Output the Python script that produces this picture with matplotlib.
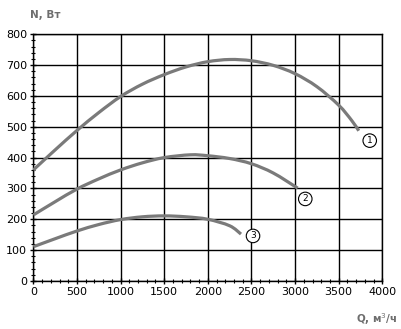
import matplotlib.pyplot as plt
from matplotlib.path import Path
from matplotlib.patches import PathPatch
from matplotlib.ticker import MultipleLocator

q1 = [0, 250, 500, 750, 1000, 1250, 1500, 1750, 2000, 2250, 2500, 2750, 3000, 3250, 3500, 3650, 3730]
n1 = [360, 425, 488, 546, 598, 638, 669, 694, 711, 718, 714, 699, 672, 630, 570, 520, 487]

q2 = [0, 250, 500, 750, 1000, 1250, 1500, 1800, 2000, 2250, 2500, 2750, 3030]
n2 = [214, 257, 298, 331, 360, 383, 400, 409, 406, 397, 380, 350, 301]

q3 = [0, 250, 500, 750, 1000, 1250, 1500, 1750, 2000, 2250, 2380]
n3 = [111, 137, 162, 183, 199, 208, 211, 208, 200, 179, 152]

labels = ["1", "2", "3"]
label_pos = [(3856, 455), (3117, 266), (2518, 146)]


def smooth_path(xs, ys):
    # Catmull-Rom through the read points, drawn as cubic Bezier segments
    pts = list(zip(xs, ys))
    verts = [pts[0]]
    codes = [Path.MOVETO]
    for i in range(len(pts) - 1):
        p0 = pts[i - 1] if i > 0 else pts[i]
        p1, p2 = pts[i], pts[i + 1]
        p3 = pts[i + 2] if i + 2 < len(pts) else pts[i + 1]
        c1 = (p1[0] + (p2[0] - p0[0]) / 6, p1[1] + (p2[1] - p0[1]) / 6)
        c2 = (p2[0] - (p3[0] - p1[0]) / 6, p2[1] - (p3[1] - p1[1]) / 6)
        verts += [c1, c2, p2]
        codes += [Path.CURVE4] * 3
    return Path(verts, codes)


fig = plt.figure(figsize=(4.02, 3.29), dpi=100)
ax = fig.add_axes([0.083, 0.146, 0.868, 0.75])

curve_color = "#7a7a7a"
for q, n in [(q1, n1), (q2, n2), (q3, n3)]:
    ax.add_patch(PathPatch(smooth_path(q, n), fc="none", ec=curve_color, lw=2.3,
                           capstyle="butt", zorder=3))

for lab, (x, y) in zip(labels, label_pos):
    ax.text(x, y, lab, fontsize=6.5, ha="center", va="center", zorder=4,
            bbox=dict(boxstyle="circle,pad=0.25", fc="white", ec="black", lw=0.8))

ax.set_xlim(0, 4000)
ax.set_ylim(0, 800)
ax.xaxis.set_major_locator(MultipleLocator(500))
ax.xaxis.set_minor_locator(MultipleLocator(100))
ax.yaxis.set_major_locator(MultipleLocator(100))
ax.yaxis.set_minor_locator(MultipleLocator(20))
ax.grid(which="major", color="black", lw=1.0)
ax.tick_params(which="major", direction="inout", length=5, width=1, labelsize=8, pad=2)
ax.tick_params(which="minor", direction="inout", length=3, width=0.8)
for s in ax.spines.values():
    s.set_linewidth(1.0)

fig.text(0.075, 0.955, "N, Вт", fontsize=7.5, color="#6e6e6e", fontweight="bold", ha="left", va="center")
fig.text(0.99, 0.03, "Q, м$^3$/ч", fontsize=7.5, color="#6e6e6e", fontweight="bold", ha="right", va="center")

fig.savefig("out.png", dpi=100)
